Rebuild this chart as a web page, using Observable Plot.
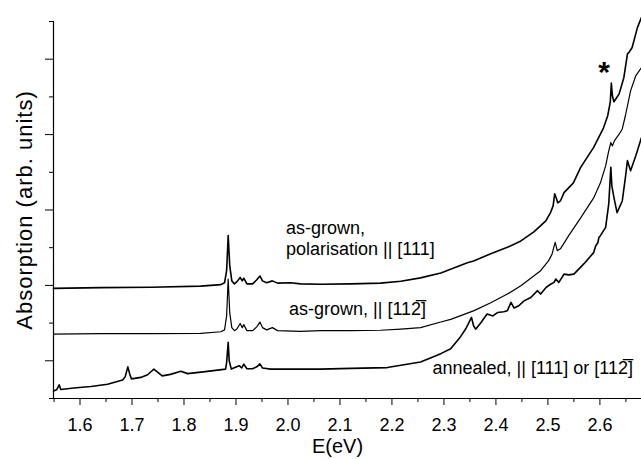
<!DOCTYPE html>
<html><head><meta charset="utf-8">
<script src="https://cdn.jsdelivr.net/npm/d3@7"></script>
<script src="https://cdn.jsdelivr.net/npm/@observablehq/plot@0.6"></script>
<style>body{margin:0;background:#fff}</style>
</head><body><div id="chart"></div>
<script>
// Tick values
const majorX = [1.6, 1.7, 1.8, 1.9, 2.0, 2.1, 2.2, 2.3, 2.4, 2.5, 2.6];
const minorX = [1.55, 1.65, 1.75, 1.85, 1.95, 2.05, 2.15, 2.25, 2.35, 2.45, 2.55, 2.65];
const majorY = [1, 3, 5, 7, 9];
const minorY = [0, 2, 4, 6, 8, 10];

// Spectra: [E (eV), absorption (arb. units)]
const asGrown111 = [
  [1.549, 2.92], [1.640, 2.94], [1.736, 2.95], [1.832, 2.98], [1.871, 3.02], [1.878, 3.07],
  [1.882, 3.39], [1.885, 4.32], [1.888, 3.52], [1.892, 3.12], [1.897, 3.04], [1.902, 3.10],
  [1.908, 3.21], [1.912, 3.12], [1.915, 3.19], [1.921, 3.04], [1.932, 3.04], [1.940, 3.15],
  [1.946, 3.25], [1.951, 3.12], [1.959, 3.07], [1.970, 3.12], [1.980, 3.06], [2.005, 3.07],
  [2.024, 3.04], [2.063, 3.03], [2.121, 3.04], [2.178, 3.06], [2.217, 3.11], [2.255, 3.20],
  [2.294, 3.33], [2.345, 3.60], [2.357, 3.65], [2.390, 3.84], [2.422, 4.01], [2.448, 4.18],
  [2.473, 4.42], [2.496, 4.71], [2.505, 4.93], [2.510, 5.11], [2.513, 5.43], [2.516, 5.32],
  [2.519, 5.19], [2.524, 5.24], [2.531, 5.46], [2.549, 5.72], [2.563, 6.13], [2.588, 6.66],
  [2.607, 7.18], [2.615, 7.50], [2.620, 7.87], [2.622, 8.37], [2.624, 8.03], [2.627, 7.87],
  [2.637, 8.08], [2.646, 8.51], [2.653, 9.14], [2.656, 9.18], [2.662, 9.31], [2.672, 9.83],
  [2.680, 10.11]
];
const asGrown112 = [
  [1.549, 1.71], [1.640, 1.72], [1.736, 1.72], [1.832, 1.73], [1.871, 1.77], [1.878, 1.82],
  [1.882, 2.19], [1.885, 3.17], [1.888, 2.27], [1.892, 1.88], [1.897, 1.80], [1.902, 1.85],
  [1.908, 1.99], [1.912, 1.88], [1.915, 1.96], [1.921, 1.80], [1.932, 1.80], [1.940, 1.90],
  [1.946, 2.03], [1.951, 1.88], [1.959, 1.82], [1.970, 1.88], [1.980, 1.80], [2.024, 1.78],
  [2.063, 1.80], [2.121, 1.80], [2.178, 1.81], [2.217, 1.84], [2.255, 1.88], [2.294, 2.03],
  [2.313, 2.10], [2.358, 2.33], [2.390, 2.54], [2.422, 2.77], [2.448, 2.99], [2.486, 3.39],
  [2.501, 3.65], [2.508, 3.83], [2.512, 4.05], [2.514, 4.14], [2.518, 3.92], [2.524, 3.97],
  [2.531, 4.12], [2.540, 4.32], [2.563, 4.79], [2.588, 5.32], [2.601, 5.72], [2.611, 6.17],
  [2.617, 6.57], [2.621, 6.79], [2.624, 6.70], [2.628, 6.84], [2.637, 7.01], [2.643, 7.15],
  [2.649, 7.50], [2.659, 8.16], [2.669, 8.56], [2.680, 8.78]
];
const annealed = [
  [1.549, 0.20], [1.555, 0.23], [1.560, 0.36], [1.563, 0.24], [1.588, 0.28], [1.621, 0.32],
  [1.653, 0.38], [1.682, 0.49], [1.687, 0.58], [1.692, 0.84], [1.696, 0.63], [1.699, 0.52],
  [1.717, 0.56], [1.730, 0.63], [1.738, 0.73], [1.742, 0.78], [1.748, 0.71], [1.758, 0.60],
  [1.774, 0.64], [1.794, 0.72], [1.807, 0.66], [1.845, 0.72], [1.880, 0.78], [1.882, 0.95],
  [1.885, 1.49], [1.887, 1.00], [1.891, 0.78], [1.906, 0.87], [1.911, 0.81], [1.915, 0.91],
  [1.921, 0.79], [1.932, 0.79], [1.940, 0.84], [1.946, 0.92], [1.951, 0.81], [1.967, 0.78],
  [2.005, 0.78], [2.063, 0.78], [2.121, 0.80], [2.191, 0.82], [2.255, 0.97], [2.294, 1.19],
  [2.313, 1.32], [2.332, 1.64], [2.342, 1.85], [2.348, 2.01], [2.353, 2.15], [2.357, 1.93],
  [2.361, 1.84], [2.371, 2.01], [2.383, 2.24], [2.394, 2.19], [2.403, 2.28], [2.415, 2.30],
  [2.422, 2.33], [2.429, 2.55], [2.435, 2.40], [2.444, 2.46], [2.454, 2.59], [2.467, 2.68],
  [2.480, 2.86], [2.486, 2.77], [2.496, 2.94], [2.505, 3.03], [2.512, 3.08], [2.515, 3.17],
  [2.521, 3.08], [2.531, 3.30], [2.540, 3.28], [2.550, 3.30], [2.569, 3.57], [2.588, 3.87],
  [2.592, 4.05], [2.596, 4.13], [2.598, 4.27], [2.601, 4.32], [2.611, 4.54], [2.617, 5.16],
  [2.621, 6.13], [2.623, 5.64], [2.627, 5.33], [2.633, 4.93], [2.643, 5.24], [2.649, 5.86],
  [2.653, 6.31], [2.659, 6.04], [2.669, 6.44], [2.680, 6.92]
];

const font = "'Liberation Sans', Arial, Helvetica, sans-serif";
const lineOpts = (w) => ({x: d => d[0], y: d => d[1], stroke: "black", strokeWidth: w, strokeLinejoin: "round"});

const chart = Plot.plot({
  width: 641,
  height: 459,
  marginLeft: 53,
  marginRight: 0,
  marginTop: 21,
  marginBottom: 61,
  style: {fontFamily: font, background: "white", color: "black"},
  x: {domain: [1.549, 2.68], label: null},
  y: {domain: [0, 10], label: null},
  marks: [
    Plot.axisX({ticks: majorX, tickSize: 7, tickPadding: 13, tickFormat: d3.format(".1f"), fontSize: 18, label: null, stroke: "black", fill: "black"}),
    Plot.axisX({ticks: minorX, tickSize: 4, tickFormat: () => "", label: null, stroke: "black"}),
    Plot.axisY({ticks: majorY, tickSize: 8, tickFormat: () => "", label: null, stroke: "black"}),
    Plot.axisY({ticks: minorY, tickSize: 4, tickFormat: () => "", label: null, stroke: "black"}),
    Plot.ruleY([0], {stroke: "black", strokeWidth: 1.2}),
    Plot.ruleX([1.549], {stroke: "black", strokeWidth: 1.2}),
    Plot.line(asGrown111, lineOpts(1.6)),
    Plot.line(asGrown112, lineOpts(1.2)),
    Plot.line(annealed, lineOpts(1.6)),
    Plot.text(["as-grown,"], {x: 1.996, y: 4.51, textAnchor: "start", fontSize: 18}),
    Plot.text(["polarisation || [111]"], {x: 1.996, y: 3.95, textAnchor: "start", fontSize: 18}),
    Plot.text(["as-grown, || [112\u0305]"], {x: 2.002, y: 2.37, textAnchor: "start", fontSize: 18}),
    Plot.text(["annealed, || [111] or [112\u0305]"], {x: 2.278, y: 0.80, textAnchor: "start", fontSize: 18}),
    Plot.text(["*"], {x: 2.608, y: 8.66, fontSize: 30, fontWeight: "bold"}),
    Plot.text(["Absorption (arb. units)"], {frameAnchor: "left", rotate: -90, dx: -29, textAnchor: "middle", lineAnchor: "middle", fontSize: 22, className: "ylab"}),
    Plot.text(["E(eV)"], {frameAnchor: "bottom", dx: -10, dy: 48, textAnchor: "middle", lineAnchor: "middle", fontSize: 20})
  ]
});
d3.select(chart).selectAll(".ylab text").attr("letter-spacing", "1px");
document.getElementById("chart").appendChild(chart);
</script>
</body></html>
